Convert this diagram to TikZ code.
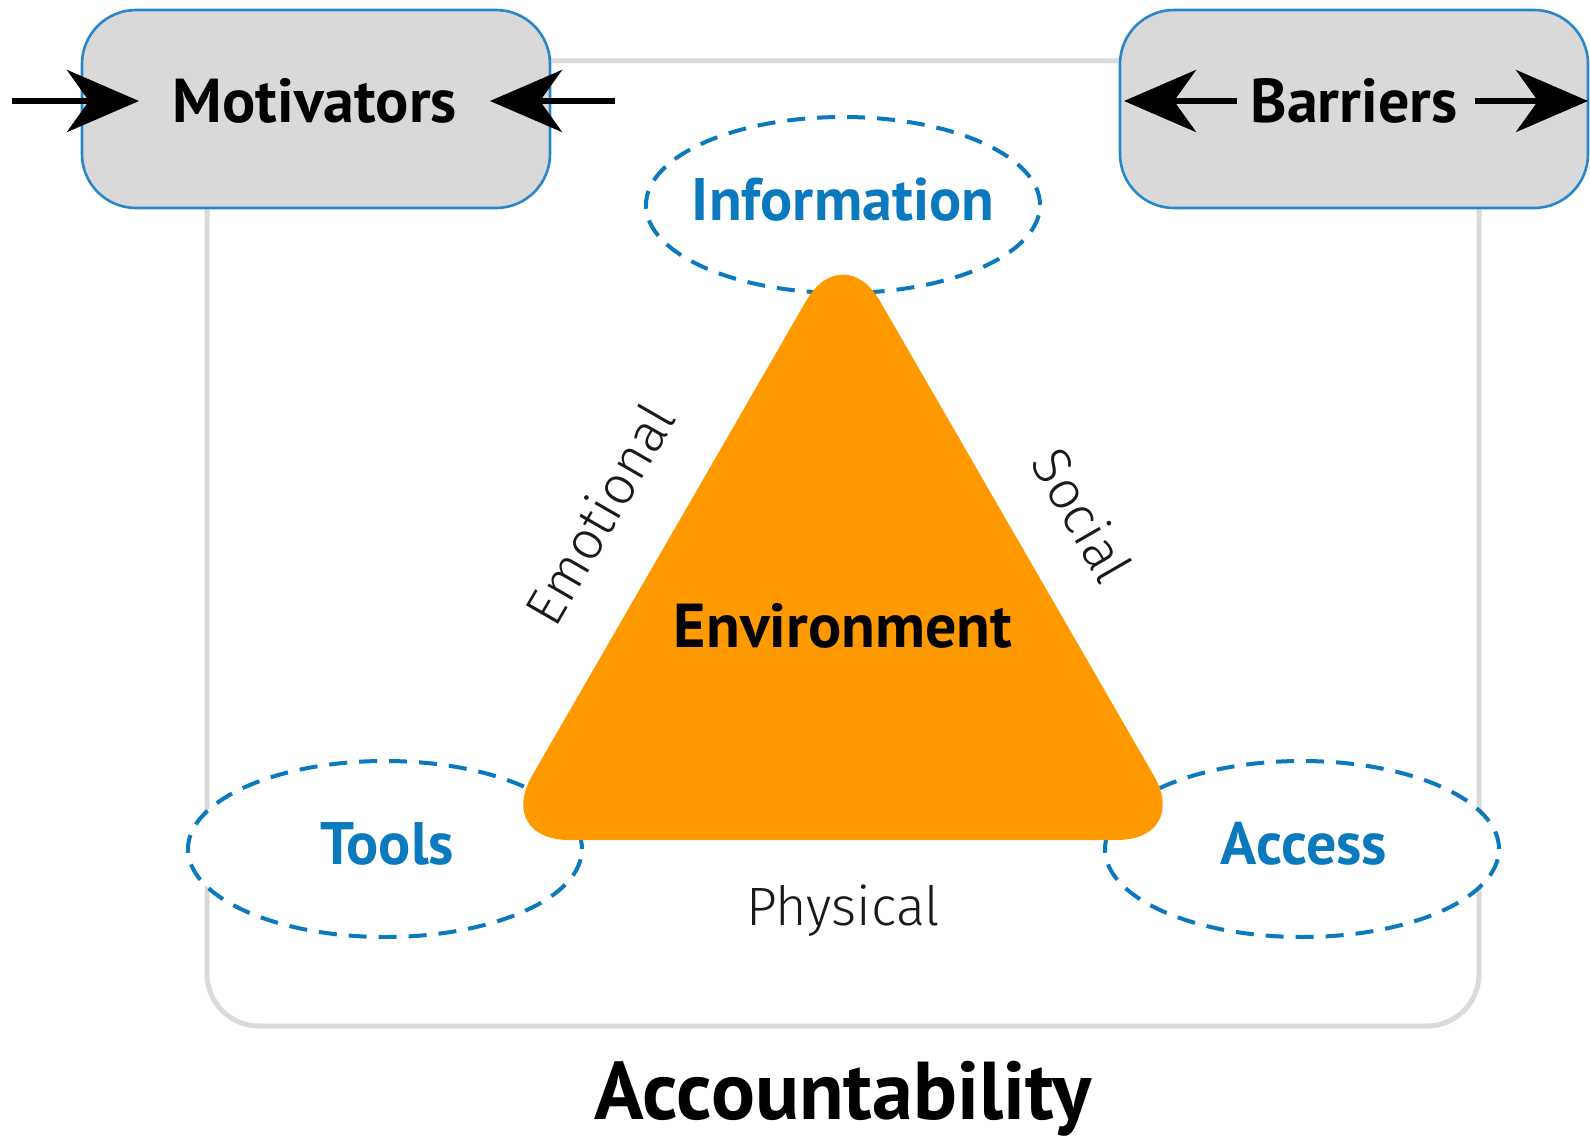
\documentclass[tikz,border=0pt]{standalone}
\usepackage{fontspec}
\setmainfont{PT Sans}
\newfontfamily\lightfont{Fira Sans Light}
\usetikzlibrary{arrows.meta,shapes.geometric}
\definecolor{boxblue}{RGB}{41,134,201}
\definecolor{txtblue}{RGB}{10,121,190}
\definecolor{boxgray}{RGB}{217,217,217}
\definecolor{framegray}{RGB}{218,218,218}
\definecolor{envorange}{RGB}{255,153,0}
\begin{document}
\begin{tikzpicture}[x=0.5pt,y=-0.5pt,
  frameline/.style={draw=framegray,line width=2.5pt,rounded corners=26pt},
  sidebox/.style={draw=boxblue,fill=boxgray,line width=1.3pt,rounded corners=27pt,
     minimum width=234pt,minimum height=99pt,inner sep=0pt},
  boxtext/.style={font=\bfseries\fontsize{31}{36}\selectfont,text=black,inner sep=0pt},
  oval/.style={ellipse,draw=txtblue,fill=white,line width=2pt,
     dash pattern=on 9pt off 6pt,minimum width=197pt,minimum height=88pt,inner sep=0pt},
  ovaltext/.style={font=\bfseries\fontsize{30}{36}\selectfont,text=txtblue,inner sep=0pt},
  sidelabel/.style={font=\lightfont\fontsize{27}{32}\selectfont,text=black!90,inner sep=0pt},
  bigarrow/.style={line width=2.8pt,-{Stealth[length=36pt,width=31pt,inset=11pt]}}
]
\useasboundingbox (0,0) rectangle (1590,1145);
\fill[white] (0,0) rectangle (1590,1145);

% frame
\draw[frameline] (207,61) rectangle (1479,1026);

% side boxes
\node[sidebox] (mbox) at (316,109) {};
\node[sidebox] (bbox) at (1354,109) {};
\node[boxtext] (mot) at (315,101) {Motivators};
\node[boxtext] (bar) at (1354,101) {Barriers};

% arrows
\coordinate (m1) at (12,101);
\coordinate (m1t) at (139,101);
\coordinate (m2) at (615,101);
\coordinate (m2t) at (490,101);
\coordinate (b1) at (1237,101);
\coordinate (b1t) at (1124,101);
\coordinate (b2) at (1475,101);
\coordinate (b2t) at (1588,101);
\draw[bigarrow] (m1) -- (m1t);
\draw[bigarrow] (m2) -- (m2t);
\draw[bigarrow] (b1) -- (b1t);
\draw[bigarrow] (b2) -- (b2t);

% ovals
\node[oval] (info) at (843,205) {};
\node[oval] (tools) at (385,849) {};
\node[oval] (access) at (1302,849) {};
\node[ovaltext] at (843,200) {Information};
\node[ovaltext] at (387,844) {Tools};
\node[ovaltext] at (1304,844) {Access};

% triangle
\fill[envorange,rounded corners=37pt] (495,840) -- (843,237) -- (1191,840) -- cycle;
\node[boxtext] (env) at (843,626) {Environment};

% side labels
\node[sidelabel,rotate=60] (emo) at (599,514) {Emotional};
\node[sidelabel,rotate=-60] (soc) at (1083,515) {Social};
\node[sidelabel] (phy) at (843,911) {Physical};

% title
\node[font=\bfseries\fontsize{41}{48}\selectfont,inner sep=0pt] (acc) at (843,1099) {Accountability};
\end{tikzpicture}
\end{document}
